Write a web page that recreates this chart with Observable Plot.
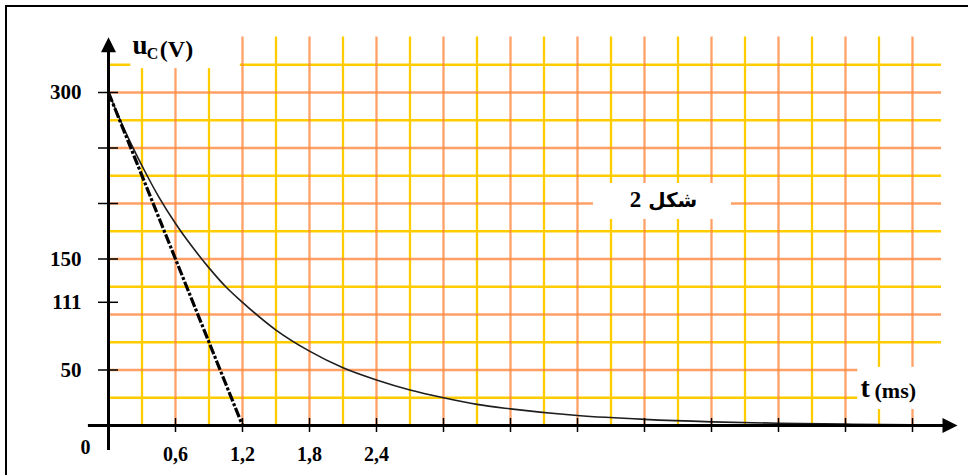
<!DOCTYPE html>
<html>
<head>
<meta charset="utf-8">
<script src="https://cdn.jsdelivr.net/npm/d3@7"></script>
<script src="https://cdn.jsdelivr.net/npm/@observablehq/plot@0.6"></script>
<style>
  html, body { margin: 0; padding: 0; background: #fff; overflow: hidden; }
  #wrap { position: relative; width: 968px; height: 475px; }
  #frame { position: absolute; left: 5px; top: 5px; width: 980px; height: 490px;
           border: 2px solid #000; pointer-events: none; box-sizing: border-box; }
</style>
</head>
<body>
<div id="wrap"><div id="chart"></div><div id="frame"></div></div>
<script>
// ---- data ----
// capacitor discharge u_C(t), t in ms, u in V
const tCurve = [0, 0.15, 0.3, 0.45, 0.6, 0.75, 0.9, 1.05, 1.2, 1.5, 1.8, 2.1, 2.4, 2.7, 3.0, 3.3, 3.6, 4.2, 4.8, 5.4, 6.0, 6.6, 7.2, 7.5];
const uCurve = [300, 265, 234, 206, 182, 161, 142, 125, 111, 86, 67, 52, 41, 32, 25, 19, 15, 9, 5.5, 3.3, 2, 1.2, 0.7, 0.5];
// tangent at t = 0
const tTangent = [0, 1.2];
const uTangent = [300, 0];

// grid
const gridT = [0.3, 0.6, 0.9, 1.2, 1.5, 1.8, 2.1, 2.4, 2.7, 3.0, 3.3, 3.6, 3.9, 4.2, 4.5, 4.8, 5.1, 5.4, 5.7, 6.0, 6.3, 6.6, 6.9, 7.2];
const gridU = [25, 50, 75, 100, 125, 150, 175, 200, 225, 250, 275, 300, 325];
const gridTopU = 350;
const gridRightT = 7.46;

// ticks and labels
const xTickValues = [0.6, 1.2, 1.8, 2.4, 3.0, 3.6, 4.2, 4.8, 5.4, 6.0, 6.6, 7.2];
const xTickLabels = [0.6, 1.2, 1.8, 2.4];
const yTickValues = [50, 111, 150, 200, 250, 300];
const yTickLabels = [50, 111, 150, 300];

// axis extents
const xAxisFrom = -0.18, xAxisTo = 7.48, xArrowAt = 7.536;
const yAxisFrom = -22.5, yAxisTo = 338, yArrowAt = 343;

// white label boxes (t1, t2, u1, u2)
const boxes = [
  {t1: 0.2, t2: 1.18, u1: 321.5, u2: 362},
  {t1: 6.71, t2: 7.7, u1: 14.4, u2: 52.4},
  {t1: 4.343, t2: 5.579, u1: 185.6, u2: 218}
];

// texts
const uLabel = {text: "u", t: 0.215, u: 335.1};
const cLabel = {text: "C", t: 0.342, u: 330.6};
const vLabel = {text: "(V)", t: 0.46, u: 332.4};
const tLabel = {text: "t", t: 6.734, u: 26.1};
const msLabel = {text: "(ms)", t: 6.86, u: 25.2};
const figWord = "شكل";
const figNumber = "2";
const figLabel = {text: figWord + " " + figNumber, t: 4.97, u: 203.0};

const YELLOW = "#ffcc00";
const ORANGE = "#ff8a40";
const SERIF = "'Liberation Serif', 'Times New Roman', serif";
const ARABIC = "'DejaVu Sans', 'Liberation Serif', sans-serif";

const curve = tCurve.map((t, i) => ({t, u: uCurve[i]}));
const tangent = tTangent.map((t, i) => ({t, u: uTangent[i]}));
const vYellow = gridT.filter((d, i) => i % 2 === 0);
const vOrange = gridT.filter((d, i) => i % 2 === 1);
const hYellow = gridU.filter((d, i) => i % 2 === 0);
const hOrange = gridU.filter((d, i) => i % 2 === 1);

const arrowSymbol = {
  draw(ctx, size) {
    const r = Math.sqrt(size / Math.PI);
    ctx.moveTo(0, -r);
    ctx.lineTo(r, r);
    ctx.lineTo(-r, r);
    ctx.closePath();
  }
};

const txt = (d, size, extra = {}) => Plot.text([d], Object.assign({x: "t", y: "u", text: "text", fontSize: size,
  textAnchor: "start", lineAnchor: "bottom", fontWeight: "bold", fontFamily: SERIF, fill: "#000"}, extra));

const plot = Plot.plot({
  width: 968,
  height: 475,
  marginLeft: 108,
  marginRight: 56,
  marginTop: 92,
  marginBottom: 50,
  style: {fontFamily: SERIF, background: "#fff", overflow: "visible"},
  x: {domain: [0, 7.2], axis: null},
  y: {domain: [0, 300], axis: null},
  marks: [
    // grid
    Plot.ruleX(vYellow, {x: d => d, y1: 0, y2: gridTopU, stroke: YELLOW, strokeWidth: 2.3}),
    Plot.ruleY(hYellow, {y: d => d, x1: 0, x2: gridRightT, stroke: YELLOW, strokeWidth: 2.3}),
    Plot.ruleX(vOrange, {x: d => d, y1: 0, y2: gridTopU, stroke: ORANGE, strokeOpacity: 0.8, strokeWidth: 2.3}),
    Plot.ruleY(hOrange, {y: d => d, x1: 0, x2: gridRightT, stroke: ORANGE, strokeOpacity: 0.8, strokeWidth: 2.3}),
    // white label boxes
    Plot.rect(boxes, {x1: "t1", x2: "t2", y1: "u1", y2: "u2", fill: "#fff"}),
    // curves
    Plot.line(curve, {x: "t", y: "u", stroke: "#1e1e1e", strokeWidth: 1.6, curve: "monotone-x"}),
    Plot.line(tangent, {x: "t", y: "u", stroke: "#000", strokeWidth: 3.2, strokeDasharray: "10,2,3,2", strokeLinecap: "butt"}),
    // axes lines
    Plot.ruleY([0], {x1: xAxisFrom, x2: xAxisTo, stroke: "#000", strokeWidth: 3}),
    Plot.ruleX([0], {y1: yAxisFrom, y2: yAxisTo, stroke: "#000", strokeWidth: 3}),
    Plot.dot([{t: xArrowAt, u: 0}], {x: "t", y: "u", r: 7.5, symbol: arrowSymbol, fill: "#000", stroke: null, rotate: 90}),
    Plot.dot([{t: 0, u: yArrowAt}], {x: "t", y: "u", r: 7.5, symbol: arrowSymbol, fill: "#000", stroke: null}),
    // ticks
    Plot.axisX(xTickValues, {anchor: "bottom", tickSize: 14, dy: -7, tickFormat: () => "", strokeWidth: 1.5, label: null}),
    Plot.axisY(yTickValues, {anchor: "left", tickSize: 20, dx: 10, tickFormat: () => "", strokeWidth: 1.5, label: null}),
    // tick labels
    Plot.axisX(xTickLabels, {anchor: "bottom", tickSize: 0, tickPadding: 21, label: null,
      tickFormat: d => String(d).replace(".", ","), fontSize: 20, fontWeight: "bold", fontFamily: SERIF, fill: "#000"}),
    Plot.axisY(yTickLabels, {anchor: "left", tickSize: 0, tickPadding: 27, label: null,
      tickFormat: d => String(d), fontSize: 21, fontWeight: "bold", fontFamily: SERIF, fill: "#000"}),
    Plot.text(["0"], {x: 0, y: 0, text: d => d, dx: -23, dy: 22, fontSize: 20, fontWeight: "bold", fontFamily: SERIF, fill: "#000"}),
    // axis labels
    txt(uLabel, 27),
    txt(cLabel, 16),
    txt(vLabel, 24),
    txt(tLabel, 28),
    txt(msLabel, 22),
    Plot.text([figLabel], {x: "t", y: "u", text: "text", fontSize: 20, fontWeight: "bold",
      fontFamily: ARABIC, fill: "#000", className: "figlabel"})
  ]
});

document.getElementById("chart").appendChild(plot);
// figure label: Arabic word in an Arabic-capable font, the number in bold serif, right-to-left
const fig = d3.select(plot).selectAll(".figlabel text");
fig.attr("direction", "rtl").style("unicode-bidi", "embed").text(null);
fig.append("tspan").text(figWord + " ");
fig.append("tspan").attr("font-family", SERIF).attr("font-size", 23).text(figNumber);
</script>
</body>
</html>
